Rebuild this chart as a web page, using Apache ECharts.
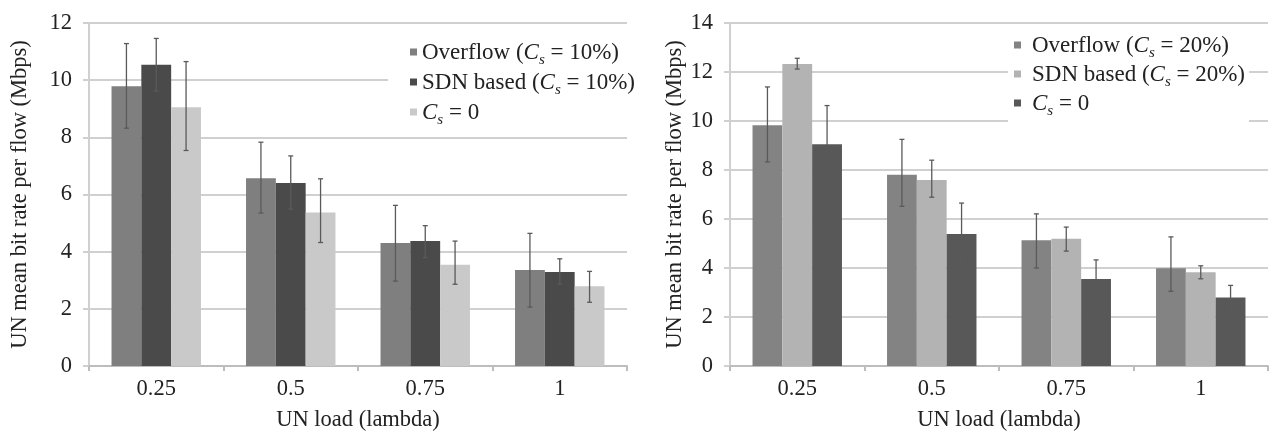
<!DOCTYPE html>
<html>
<head>
<meta charset="utf-8">
<script src="https://cdn.jsdelivr.net/npm/echarts@6/dist/echarts.min.js"></script>
<style>
  html, body { margin: 0; padding: 0; background: #fff; }
  #main { width: 1276px; height: 437px; }
</style>
</head>
<body>
<div id="main"></div>
<script>
// categories (UN load)
var categories = ['0.25', '0.5', '0.75', '1'];

// left chart, Cs = 10%
var overflow10 = [9.79, 6.57, 4.30, 3.36];
var overflow10Err = [[8.32, 11.28], [5.35, 7.83], [2.97, 5.62], [2.06, 4.64]];
var sdn10 = [10.54, 6.40, 4.37, 3.29];
var sdn10Err = [[9.62, 11.46], [5.49, 7.35], [3.79, 4.91], [2.86, 3.75]];
var cs0Left = [9.05, 5.37, 3.54, 2.79];
var cs0LeftErr = [[7.54, 10.65], [4.32, 6.55], [2.86, 4.37], [2.23, 3.31]];

// right chart, Cs = 20%
var overflow20 = [9.83, 7.81, 5.13, 3.99];
var overflow20Err = [[8.33, 11.39], [6.52, 9.25], [4.00, 6.21], [3.05, 5.27]];
var sdn20 = [12.33, 7.59, 5.19, 3.83];
var sdn20Err = [[12.12, 12.56], [6.89, 8.40], [4.69, 5.67], [3.56, 4.09]];
var cs0Right = [9.05, 5.39, 3.55, 2.80];
var cs0RightErr = [[7.49, 10.63], [4.19, 6.65], [2.80, 4.33], [2.27, 3.29]];

var FONT = '"Liberation Serif", "DejaVu Serif", serif';
var FS = 22.5;
var gridColor = '#d0d0d0';
var errColor = '#5a5a5a';
var catGap = 0.335;

// legend labels with italic C and subscript s
var legendText = {
    'Overflow (Cs = 10%)': '{t|Overflow (}{i|C}{s|s}{t| = 10%)}',
    'SDN based (Cs = 10%)': '{t|SDN based (}{i|C}{s|s}{t| = 10%)}',
    'Cs = 0 ': '{i|C}{s|s}{t| = 0}',
    'Overflow (Cs = 20%)': '{g|}{t|Overflow (}{i|C}{s|s}{t| = 20%)}',
    'SDN based (Cs = 20%)': '{g|}{t|SDN based (}{i|C}{s|s}{t| = 20%)}',
    'Cs = 0  ': '{g|}{i|C}{s|s}{t| = 0}'
};

var richStyle = {
    g: { width: 6, lineHeight: 22, verticalAlign: 'top' },
    t: { fontFamily: FONT, fontSize: 23, color: '#222', lineHeight: 22, verticalAlign: 'top' },
    i: { fontFamily: FONT, fontSize: 23, color: '#222', fontStyle: 'italic', lineHeight: 22, verticalAlign: 'top' },
    s: { fontFamily: FONT, fontSize: 15, color: '#222', fontStyle: 'italic', lineHeight: 15, verticalAlign: 'top', padding: [12, 0, 0, 0] }
};

function errData(pairs) {
    return pairs.map(function (p, i) { return [i, p[0], p[1]]; });
}

function errSeries(pairs, k, axisIdx) {
    return {
        type: 'custom',
        xAxisIndex: axisIdx,
        yAxisIndex: axisIdx,
        z: 5,
        silent: true,
        encode: { x: 0, y: [1, 2] },
        data: errData(pairs),
        renderItem: function (params, api) {
            var band = api.size([1, 0])[0];
            var barW = band * (1 - catGap) / 3;
            var off = (k - 1) * barW;
            var lo = api.coord([api.value(0), api.value(1)]);
            var hi = api.coord([api.value(0), api.value(2)]);
            var x = lo[0] + off;
            var cap = 2.5;
            var st = { stroke: errColor, lineWidth: 1.3 };
            return {
                type: 'group',
                children: [
                    { type: 'line', shape: { x1: x, y1: lo[1], x2: x, y2: hi[1] }, style: st },
                    { type: 'line', shape: { x1: x - cap, y1: lo[1], x2: x + cap, y2: lo[1] }, style: st },
                    { type: 'line', shape: { x1: x - cap, y1: hi[1], x2: x + cap, y2: hi[1] }, style: st }
                ]
            };
        }
    };
}

function barSeries(name, data, color, axisIdx) {
    return {
        name: name,
        type: 'bar',
        xAxisIndex: axisIdx,
        yAxisIndex: axisIdx,
        barGap: '0%',
        barCategoryGap: (catGap * 100) + '%',
        itemStyle: { color: color },
        data: data
    };
}

function xAxisOf(gridIdx) {
    return {
        type: 'category',
        gridIndex: gridIdx,
        data: categories,
        name: 'UN load (lambda)',
        nameLocation: 'middle',
        nameGap: 43,
        nameTextStyle: { fontFamily: FONT, fontSize: FS, color: '#222' },
        axisLine: { lineStyle: { color: '#bdbdbd', width: 2 } },
        axisTick: { show: true, length: 5, lineStyle: { color: '#bdbdbd', width: 2 } },
        axisLabel: { fontFamily: FONT, fontSize: FS, color: '#222', margin: 12 }
    };
}

function yAxisOf(gridIdx, max, gap) {
    return {
        type: 'value',
        gridIndex: gridIdx,
        min: 0,
        max: max,
        interval: 2,
        name: 'UN mean bit rate per flow (Mbps)',
        nameLocation: 'middle',
        nameGap: gap,
        nameTextStyle: { fontFamily: FONT, fontSize: FS, color: '#222' },
        axisLine: { show: true, lineStyle: { color: gridColor, width: 2 } },
        axisTick: { show: true, length: 6, lineStyle: { color: gridColor, width: 2 } },
        axisLabel: { fontFamily: FONT, fontSize: FS, color: '#222', margin: 17 },
        splitLine: { show: true, lineStyle: { color: gridColor, width: 2 } }
    };
}

var myChart = echarts.init(document.getElementById('main'));
var option = {
    backgroundColor: '#fff',
    animation: false,
    grid: [
        { left: 89, right: 649, top: 23, bottom: 65 },
        { left: 730, right: 8, top: 23, bottom: 65 }
    ],
    legend: [
        {
            orient: 'vertical',
            left: 388,
            top: 37,
            padding: [4, 4, 4, 22],
            backgroundColor: '#fff',
            itemWidth: 7,
            itemHeight: 7,
            itemGap: 3,
            icon: 'rect',
            data: ['Overflow (Cs = 10%)', 'SDN based (Cs = 10%)', 'Cs = 0 '],
            formatter: function (n) { return legendText[n]; },
            textStyle: { rich: richStyle }
        },
        {
            orient: 'vertical',
            left: 1008,
            top: 30,
            padding: [4, 4, 4, 6],
            backgroundColor: '#fff',
            itemWidth: 7,
            itemHeight: 7,
            itemGap: 2,
            icon: 'rect',
            data: ['Overflow (Cs = 20%)', 'SDN based (Cs = 20%)', 'Cs = 0  '],
            formatter: function (n) { return legendText[n]; },
            textStyle: { rich: richStyle }
        }
    ],
    xAxis: [xAxisOf(0), xAxisOf(1)],
    yAxis: [yAxisOf(0, 12, 57), yAxisOf(1, 14, 43)],
    series: [
        barSeries('Overflow (Cs = 10%)', overflow10, '#7f7f7f', 0),
        barSeries('SDN based (Cs = 10%)', sdn10, '#4a4a4a', 0),
        barSeries('Cs = 0 ', cs0Left, '#c9c9c9', 0),
        errSeries(overflow10Err, 0, 0),
        errSeries(sdn10Err, 1, 0),
        errSeries(cs0LeftErr, 2, 0),
        barSeries('Overflow (Cs = 20%)', overflow20, '#838383', 1),
        barSeries('SDN based (Cs = 20%)', sdn20, '#b3b3b3', 1),
        barSeries('Cs = 0  ', cs0Right, '#585858', 1),
        errSeries(overflow20Err, 0, 1),
        errSeries(sdn20Err, 1, 1),
        errSeries(cs0RightErr, 2, 1)
    ]
};
myChart.setOption(option);
</script>
</body>
</html>
